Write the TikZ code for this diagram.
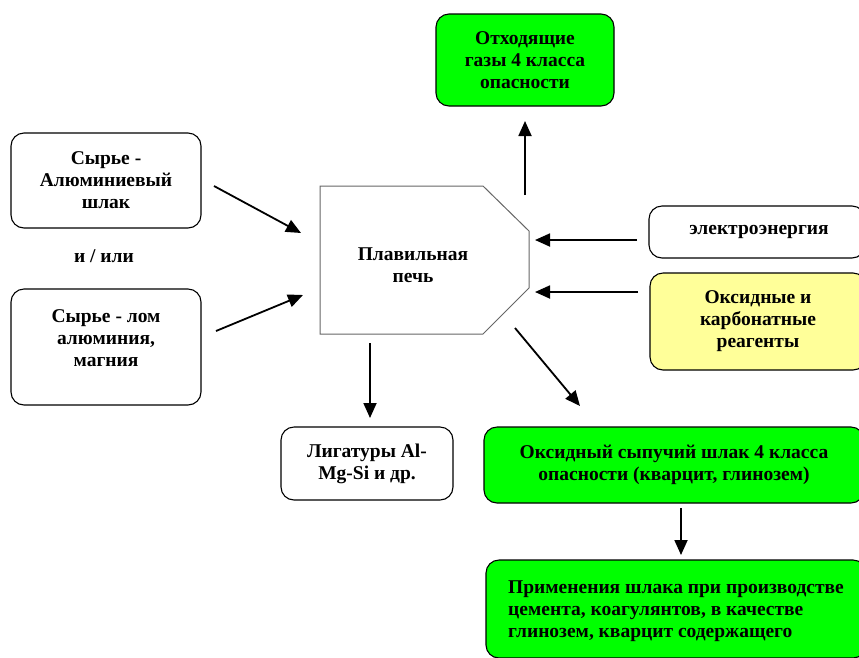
\documentclass[tikz,border=0pt]{standalone}
\usepackage{fontspec}
\setmainfont{Liberation Serif}
\usetikzlibrary{arrows.meta}
\definecolor{brightgreen}{RGB}{0,255,0}
\definecolor{paleyellow}{RGB}{255,255,153}
\begin{document}
\begin{tikzpicture}[x=1pt,y=-1pt,
  txt/.style={font=\fontsize{19.5}{22}\selectfont\bfseries, align=center, inner sep=0pt},
  boxw/.style={draw=black, line width=1.1pt, rounded corners=13pt, fill=white, inner sep=0pt},
  boxg/.style={boxw, fill=brightgreen},
  boxy/.style={boxw, fill=paleyellow},
  arr/.style={line width=1.8pt, -{Triangle[length=15pt,width=13pt]}}
]
\useasboundingbox (0,0) rectangle (859,657);
% boxes
\node[boxg, txt, minimum width=178pt, minimum height=92pt] (gas) at (525,60) {Отходящие\\газы 4 класса\\опасности};
\node[boxw, txt, minimum width=190pt, minimum height=95pt] (raw1) at (106,180.5) {Сырье -\\Алюминиевый\\шлак};
\node[txt] (orr) at (104,256) {и / или};
\node[boxw, minimum width=190pt, minimum height=116pt] (raw2) at (106,347) {};
\node[txt] (raw2t) at (106,338) {Сырье - лом\\алюминия,\\магния};
\node[boxw, minimum width=216pt, minimum height=52pt] (elec) at (757,232) {};
\node[txt] (elect) at (759,232) {электроэнергия};
\node[boxy, txt, minimum width=216pt, minimum height=97pt] (reag) at (758,321.5) {Оксидные и\\карбонатные\\реагенты};
\node[boxw, txt, minimum width=172pt, minimum height=73pt] (lig) at (367,463.5) {Лигатуры Al-\\Mg-Si и др.};
\node[boxg, txt, minimum width=380pt, minimum height=76pt] (slag) at (674,465) {Оксидный сыпучий шлак 4 класса\\опасности (кварцит, глинозем)};
\node[boxg, minimum width=380pt, minimum height=98pt] (use) at (676,609) {};
\node[txt, align=left, anchor=west] (uset) at (508,611) {Применения шлака при производстве\\цемента, коагулянтов, в качестве\\глинозем, кварцит содержащего};
% furnace
\draw[draw=black!60, line width=1pt, fill=white] (320,186) -- (483,186) -- (529,231) -- (529,288) -- (483,334) -- (320,334) -- cycle;
\node[txt] (furn) at (413,265) {Плавильная\\печь};
% arrow coordinates
\coordinate (a1s) at (214,186); \coordinate (a1e) at (301,233);
\coordinate (a2s) at (216,331); \coordinate (a2e) at (303,295);
\coordinate (a3s) at (525,195); \coordinate (a3e) at (525,121);
\coordinate (a4s) at (637,240); \coordinate (a4e) at (535,240);
\coordinate (a5s) at (638,292); \coordinate (a5e) at (535,292);
\coordinate (a6s) at (370,343); \coordinate (a6e) at (370,418);
\coordinate (a7s) at (515,328); \coordinate (a7e) at (580,406);
\coordinate (a8s) at (681,508); \coordinate (a8e) at (681,555);
\draw[arr] (a1s) -- (a1e);
\draw[arr] (a2s) -- (a2e);
\draw[arr] (a3s) -- (a3e);
\draw[arr] (a4s) -- (a4e);
\draw[arr] (a5s) -- (a5e);
\draw[arr] (a6s) -- (a6e);
\draw[arr] (a7s) -- (a7e);
\draw[arr] (a8s) -- (a8e);
\end{tikzpicture}
\end{document}
